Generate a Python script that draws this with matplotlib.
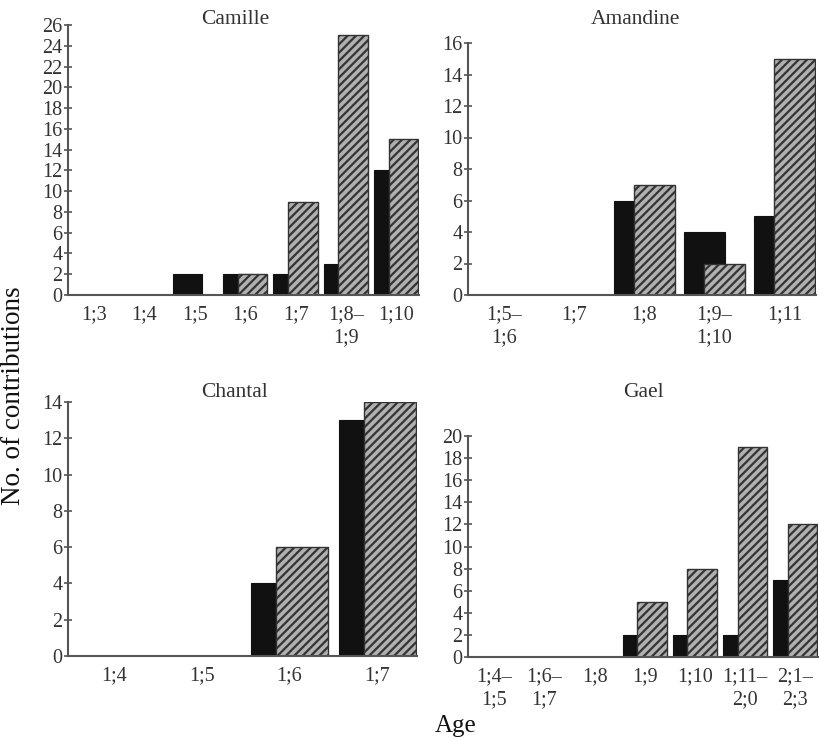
import numpy as np
import matplotlib
matplotlib.use("Agg")
import matplotlib.pyplot as plt

plt.rcParams['font.family'] = ['Liberation Serif', 'DejaVu Serif']
plt.rcParams['hatch.linewidth'] = 1.6
plt.rcParams['hatch.color'] = '#1a1a1a'

# ages (x categories) and the two counts per child
camille_ages = ['1;3', '1;4', '1;5', '1;6', '1;7', '1;8–\n1;9', '1;10']
camille_black = [0, 0, 2, 2, 2, 3, 12]
camille_hatch = [0, 0, 0, 2, 9, 25, 15]

amandine_ages = ['1;5–\n1;6', '1;7', '1;8', '1;9–\n1;10', '1;11']
amandine_black = [0, 0, 6, 4, 5]
amandine_hatch = [0, 0, 7, 2, 15]

chantal_ages = ['1;4', '1;5', '1;6', '1;7']
chantal_black = [0, 0, 4, 13]
chantal_hatch = [0, 0, 6, 14]

gael_ages = ['1;4–\n1;5', '1;6–\n1;7', '1;8', '1;9', '1;10', '1;11–\n2;0', '2;1–\n2;3']
gael_black = [0, 0, 0, 2, 2, 2, 7]
gael_hatch = [0, 0, 0, 5, 8, 19, 12]

W, H = 819, 738
fig = plt.figure(figsize=(W / 100, H / 100), dpi=100)

def px_axes(left, right, top, bottom):
    return fig.add_axes([left / W, 1 - bottom / H, (right - left) / W, (bottom - top) / H])

def panel(ax, ages, black, hatch, ymax, title, tx, ty):
    x = np.arange(len(ages))
    bw = 0.59
    ax.bar(x - 0.44, black, width=bw, align='edge', color='#111111', edgecolor='#111111', linewidth=0.8)
    ax.bar(x - 0.15, hatch, width=bw, align='edge', color='#b0b0b0', edgecolor='#333333',
           linewidth=1.0, hatch='////')
    ax.set_xlim(-0.52, len(ages) - 1 + 0.45)
    ax.set_ylim(0, ymax)
    ax.set_yticks(np.arange(0, ymax + 1, 2))
    ax.set_xticks(x)
    ax.set_xticklabels(ages, linespacing=1.35)
    for s in ['top', 'right']:
        ax.spines[s].set_visible(False)
    for s in ['left', 'bottom']:
        ax.spines[s].set_color('#555555')
        ax.spines[s].set_linewidth(1.5)
    ax.tick_params(axis='y', direction='inout', length=6, width=1.2, color='#555555',
                   labelsize=14.5, labelcolor='#333333', pad=1)
    ax.tick_params(axis='x', length=0, labelsize=14.5, labelcolor='#333333', pad=7)
    fig.text(tx / W, 1 - ty / H, title, ha='center', va='center', fontsize=15.5, color='#333333')

ax1 = px_axes(68, 419, 25, 295)
panel(ax1, camille_ages, camille_black, camille_hatch, 26, 'Camille', 235, 19)
ax2 = px_axes(468, 816, 43, 295)
panel(ax2, amandine_ages, amandine_black, amandine_hatch, 16, 'Amandine', 635, 19)
ax3 = px_axes(68, 417, 402, 656)
panel(ax3, chantal_ages, chantal_black, chantal_hatch, 14, 'Chantal', 235, 393)
ax4 = px_axes(468, 818, 436, 657)
panel(ax4, gael_ages, gael_black, gael_hatch, 20, 'Gael', 643, 393)

fig.text(14 / W, 1 - 396 / H, 'No. of contributions', rotation=90, ha='center', va='center',
         fontsize=19.5, color='#111111')
fig.text(456 / W, 1 - 726 / H, 'Age', ha='center', va='center', fontsize=18, color='#111111')

fig.savefig('out.png', dpi=100)
